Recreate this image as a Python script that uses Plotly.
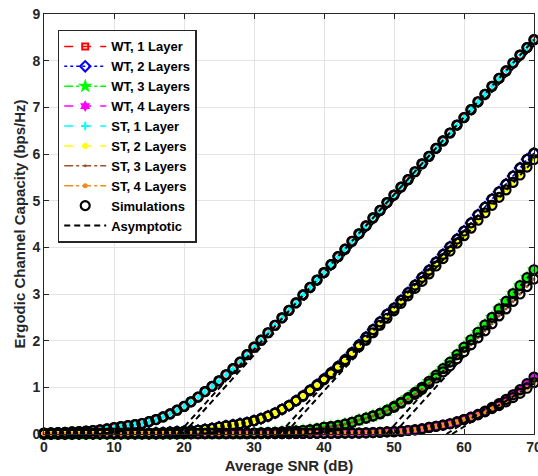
import plotly.graph_objects as go

snr_db = list(range(0, 71))

wt_1 = [0.02, 0.025, 0.03, 0.035, 0.045, 0.05, 0.06, 0.075, 0.09, 0.11,
        0.135, 0.16, 0.18, 0.20, 0.225, 0.265, 0.31, 0.365, 0.43, 0.51,
        0.59, 0.69, 0.79, 0.91, 1.02, 1.14, 1.27, 1.40, 1.54, 1.70,
        1.86, 2.01, 2.17, 2.33, 2.49, 2.65, 2.81, 2.98, 3.14, 3.30,
        3.46, 3.63, 3.80, 3.96, 4.13, 4.29, 4.46, 4.63, 4.79, 4.96,
        5.12, 5.29, 5.45, 5.62, 5.79, 5.95, 6.12, 6.28, 6.45, 6.62,
        6.78, 6.95, 7.12, 7.28, 7.45, 7.62, 7.78, 7.95, 8.12, 8.28, 8.45]
st_1 = [0.02, 0.025, 0.03, 0.035, 0.045, 0.05, 0.06, 0.075, 0.09, 0.11,
        0.135, 0.16, 0.18, 0.20, 0.225, 0.265, 0.31, 0.365, 0.43, 0.51,
        0.59, 0.69, 0.79, 0.91, 1.02, 1.14, 1.27, 1.40, 1.54, 1.70,
        1.86, 2.01, 2.17, 2.33, 2.49, 2.65, 2.81, 2.98, 3.14, 3.30,
        3.46, 3.63, 3.80, 3.96, 4.13, 4.29, 4.46, 4.63, 4.79, 4.96,
        5.12, 5.29, 5.45, 5.62, 5.79, 5.95, 6.12, 6.28, 6.45, 6.62,
        6.78, 6.95, 7.12, 7.28, 7.45, 7.62, 7.78, 7.95, 8.12, 8.28, 8.45]
wt_2 = [0.005, 0.006, 0.007, 0.008, 0.009, 0.01, 0.011, 0.012, 0.013, 0.014,
        0.015, 0.016, 0.017, 0.018, 0.019, 0.02, 0.025, 0.03, 0.04, 0.05,
        0.055, 0.065, 0.08, 0.10, 0.12, 0.15, 0.175, 0.195, 0.22, 0.245,
        0.285, 0.33, 0.385, 0.45, 0.53, 0.61, 0.714, 0.818, 0.942, 1.056,
        1.18, 1.314, 1.448, 1.592, 1.746, 1.91, 2.074, 2.238, 2.402, 2.566,
        2.70, 2.864, 3.028, 3.192, 3.356, 3.51, 3.684, 3.848, 4.012, 4.176,
        4.35, 4.524, 4.698, 4.862, 5.036, 5.19, 5.354, 5.528, 5.702, 5.886, 6.02]
st_2 = [0.005, 0.006, 0.007, 0.008, 0.009, 0.01, 0.011, 0.012, 0.013, 0.014,
        0.015, 0.016, 0.017, 0.018, 0.019, 0.02, 0.025, 0.03, 0.04, 0.05,
        0.055, 0.065, 0.08, 0.10, 0.12, 0.15, 0.175, 0.195, 0.22, 0.245,
        0.285, 0.33, 0.385, 0.45, 0.53, 0.61, 0.71, 0.81, 0.93, 1.04,
        1.16, 1.29, 1.42, 1.56, 1.71, 1.87, 2.01, 2.17, 2.33, 2.48,
        2.64, 2.80, 2.96, 3.12, 3.27, 3.43, 3.60, 3.76, 3.92, 4.09,
        4.25, 4.41, 4.58, 4.74, 4.90, 5.07, 5.23, 5.39, 5.55, 5.72, 5.88]
wt_3 = [0.002, 0.002, 0.002, 0.003, 0.003, 0.003, 0.004, 0.004, 0.004, 0.005,
        0.005, 0.005, 0.006, 0.006, 0.006, 0.007, 0.007, 0.008, 0.008, 0.009,
        0.009, 0.01, 0.011, 0.012, 0.013, 0.014, 0.015, 0.016, 0.017, 0.018,
        0.02, 0.025, 0.03, 0.035, 0.045, 0.05, 0.06, 0.075, 0.09, 0.11,
        0.145, 0.16, 0.18, 0.21, 0.25, 0.30, 0.34, 0.39, 0.44, 0.51,
        0.59, 0.68, 0.78, 0.89, 1.00, 1.13, 1.26, 1.40, 1.54, 1.70,
        1.86, 2.02, 2.18, 2.34, 2.50, 2.68, 2.84, 3.01, 3.18, 3.35, 3.52]
st_3 = [0.002, 0.002, 0.002, 0.003, 0.003, 0.003, 0.004, 0.004, 0.004, 0.005,
        0.005, 0.005, 0.006, 0.006, 0.006, 0.007, 0.007, 0.008, 0.008, 0.009,
        0.009, 0.01, 0.011, 0.012, 0.013, 0.014, 0.015, 0.016, 0.017, 0.018,
        0.02, 0.025, 0.03, 0.035, 0.045, 0.05, 0.06, 0.075, 0.09, 0.11,
        0.145, 0.16, 0.18, 0.21, 0.25, 0.30, 0.34, 0.385, 0.43, 0.50,
        0.57, 0.66, 0.75, 0.85, 0.96, 1.08, 1.20, 1.33, 1.46, 1.61,
        1.76, 1.91, 2.06, 2.21, 2.36, 2.53, 2.68, 2.84, 3.00, 3.16, 3.32]
wt_4 = [0.001, 0.001, 0.001, 0.001, 0.001, 0.002, 0.002, 0.002, 0.002, 0.002,
        0.003, 0.003, 0.003, 0.003, 0.003, 0.004, 0.004, 0.004, 0.004, 0.004,
        0.005, 0.005, 0.005, 0.005, 0.006, 0.006, 0.006, 0.007, 0.007, 0.007,
        0.008, 0.008, 0.009, 0.009, 0.01, 0.01, 0.011, 0.012, 0.013, 0.014,
        0.015, 0.016, 0.017, 0.018, 0.019, 0.02, 0.025, 0.03, 0.035, 0.045,
        0.05, 0.06, 0.075, 0.09, 0.11, 0.14, 0.165, 0.19, 0.22, 0.26,
        0.31, 0.36, 0.42, 0.49, 0.57, 0.65, 0.74, 0.84, 0.95, 1.08, 1.22]
st_4 = [0.001, 0.001, 0.001, 0.001, 0.001, 0.002, 0.002, 0.002, 0.002, 0.002,
        0.003, 0.003, 0.003, 0.003, 0.003, 0.004, 0.004, 0.004, 0.004, 0.004,
        0.005, 0.005, 0.005, 0.005, 0.006, 0.006, 0.006, 0.007, 0.007, 0.007,
        0.008, 0.008, 0.009, 0.009, 0.01, 0.01, 0.011, 0.012, 0.013, 0.014,
        0.015, 0.016, 0.017, 0.018, 0.019, 0.02, 0.025, 0.03, 0.035, 0.045,
        0.05, 0.06, 0.075, 0.09, 0.11, 0.14, 0.165, 0.19, 0.22, 0.26,
        0.31, 0.355, 0.41, 0.475, 0.545, 0.61, 0.69, 0.78, 0.87, 0.98, 1.10]

# asymptotic lines: SNR at zero crossing and at 70 dB, with their values
asym_snr = {
    "wt_1": [19.1, 70], "st_1": [19.8, 70],
    "wt_2": [33.6, 70], "st_2": [34.4, 70],
    "wt_3": [48.9, 70], "st_3": [49.9, 70],
    "wt_4": [57.5, 70], "st_4": [58.3, 70],
}
asym_val = {
    "wt_1": [0, 8.45], "st_1": [0, 8.33],
    "wt_2": [0, 6.00], "st_2": [0, 5.87],
    "wt_3": [0, 3.50], "st_3": [0, 3.32],
    "wt_4": [0, 1.20], "st_4": [0, 1.08],
}

names = ["WT, 1 Layer", "WT, 2 Layers", "WT, 3 Layers", "WT, 4 Layers",
         "ST, 1 Layer", "ST, 2 Layers", "ST, 3 Layers", "ST, 4 Layers"]
series = [wt_1, wt_2, wt_3, wt_4, st_1, st_2, st_3, st_4]

styles = [
    dict(color="#ff0000", dash="dash", symbol="square-open", size=6, mlw=2),
    dict(color="#0000ff", dash="dot", symbol="diamond-open", size=8, mlw=2),
    dict(color="#00ff00", dash="dashdot", symbol="star", size=11, mlw=0),
    dict(color="#ff00ff", dash="dash", symbol="hexagram", size=9, mlw=0),
    dict(color="#00ffff", dash="dash", symbol="cross-thin", size=6, mlw=2),
    dict(color="#ffff00", dash="dash", symbol="circle", size=6, mlw=0),
    dict(color="#a0522d", dash="dashdot", symbol="circle", size=3, mlw=0),
    dict(color="#f08c1e", dash="dashdot", symbol="circle", size=5, mlw=0),
]

fig = go.Figure()
for name, ys, st in zip(names, series, styles):
    fig.add_trace(go.Scatter(
        x=snr_db, y=ys, name=name, mode="lines+markers",
        line=dict(color=st["color"], width=1.5, dash=st["dash"]),
        marker=dict(symbol=st["symbol"], size=st["size"], color=st["color"],
                    line=dict(color=st["color"], width=st["mlw"])),
        cliponaxis=False,
    ))

sim_x, sim_y = [], []
for ys in series:
    sim_x += snr_db + [None]
    sim_y += ys + [None]
fig.add_trace(go.Scatter(
    x=sim_x, y=sim_y, name="Simulations", mode="markers",
    marker=dict(symbol="circle-open", size=9, color="black",
                line=dict(color="black", width=2.2)),
    cliponaxis=False,
))

ax, ay = [], []
for key in ["wt_1", "st_1", "wt_2", "st_2", "wt_3", "st_3", "wt_4", "st_4"]:
    ax += asym_snr[key] + [None]
    ay += asym_val[key] + [None]
fig.add_trace(go.Scatter(
    x=ax, y=ay, name="Asymptotic", mode="lines",
    line=dict(color="black", width=2, dash="6px,4px"),
))

FONT = "Liberation Sans, Arial, sans-serif"
axis_font = dict(family=FONT, size=14, color="#262626", weight="bold")
title_font = dict(family=FONT, size=15, color="#262626", weight="bold")
fig.update_layout(
    width=538, height=476,
    margin=dict(l=44, r=4, t=14, b=42, autoexpand=False),
    paper_bgcolor="white", plot_bgcolor="white",
    showlegend=True,
    legend=dict(
        x=0.028, y=0.962, xanchor="left", yanchor="top",
        bgcolor="white", bordercolor="#262626", borderwidth=1.5,
        font=dict(family=FONT, size=13, color="black", weight="bold"),
        itemwidth=42, tracegroupgap=0,
    ),
    xaxis=dict(
        range=[0, 70], tickvals=[0, 10, 20, 30, 40, 50, 60, 70],
        showgrid=True, gridcolor="#e3e3e3", gridwidth=1,
        showline=True, linecolor="#262626", linewidth=1, mirror="ticks",
        ticks="inside", ticklen=5, tickcolor="#262626",
        tickfont=axis_font, zeroline=False, automargin=False,
        ticklabeloverflow="allow",
        title=dict(text="Average SNR (dB)", font=title_font, standoff=6),
    ),
    yaxis=dict(
        range=[0, 9], tickvals=list(range(0, 10)),
        showgrid=True, gridcolor="#e3e3e3", gridwidth=1,
        showline=True, linecolor="#262626", linewidth=1, mirror="ticks",
        ticks="inside", ticklen=5, tickcolor="#262626",
        tickfont=axis_font, zeroline=False, automargin=False,
        ticklabeloverflow="allow",
        title=dict(text="Ergodic Channel Capacity (bps/Hz)", font=title_font,
                   standoff=3),
    ),
)

# remove the browser's default 8px page margin so the figure fills the window
fig.write_html("out.html", config={"displayModeBar": False},
               post_script="document.body.style.margin='0';")
